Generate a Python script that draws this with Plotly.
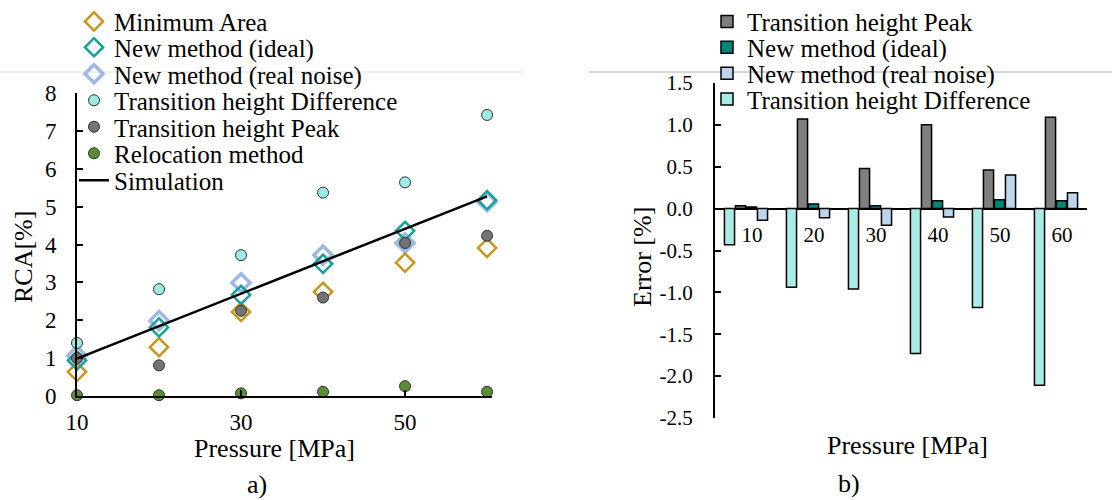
import plotly.graph_objects as go

# ---------------- data ----------------
pressure = [10, 20, 30, 40, 50, 60]
min_area = [0.64, 1.29, 2.22, 2.75, 3.52, 3.91]
new_ideal = [0.94, 1.81, 2.67, 3.49, 4.36, 5.17]
new_real = [1.07, 1.99, 2.99, 3.72, 4.04, 5.13]
th_diff = [1.40, 2.82, 3.72, 5.37, 5.64, 7.42]
th_peak = [1.00, 0.81, 2.25, 2.60, 4.04, 4.23]
relocation = [0.02, 0.02, 0.07, 0.11, 0.26, 0.11]
simulation = [0.99, 1.85, 2.70, 3.56, 4.43, 5.27]

err_categories = ["10", "20", "30", "40", "50", "60"]
err_diff = [-0.43, -0.94, -0.96, -1.73, -1.18, -2.11]
err_peak = [0.035, 1.07, 0.48, 1.00, 0.46, 1.09]
err_ideal = [0.02, 0.055, 0.035, 0.095, 0.105, 0.095]
err_real = [-0.14, -0.11, -0.20, -0.10, 0.40, 0.19]

rca_tickvals = [0, 1, 2, 3, 4, 5, 6, 7, 8]
p_tickvals = [10, 30, 50]
err_tickvals = [-2.5, -2.0, -1.5, -1.0, -0.5, 0.0, 0.5, 1.0, 1.5]
err_ticktext = ["-2.5", "-2.0", "-1.5", "-1.0", "-0.5", "0.0", "0.5", "1.0", "1.5"]

# ---------------- layout geometry ----------------
W, H = 1112, 500
FONT = "Liberation Serif, Times New Roman, Tinos, DejaVu Serif, serif"

def px(x):
    return x / W

def py(y):
    return 1 - y / H

fig = go.Figure()

# ---- left panel: scatter ----
fig.add_trace(go.Scatter(x=pressure, y=new_real, mode="markers", name="New method (real noise)",
                         legend="legend3", cliponaxis=False,
                         marker=dict(symbol="diamond-open", size=14, color="#9DB8E2",
                                     line=dict(width=3.5, color="#9DB8E2"))))
fig.add_trace(go.Scatter(x=pressure, y=min_area, mode="markers", name="Minimum Area",
                         legend="legend", cliponaxis=False,
                         marker=dict(symbol="diamond-open", size=14, color="#C8961A",
                                     line=dict(width=2.5, color="#C8961A"))))
fig.add_trace(go.Scatter(x=pressure, y=new_ideal, mode="markers", name="New method (ideal)",
                         legend="legend2", cliponaxis=False,
                         marker=dict(symbol="diamond-open", size=14, color="#17A19B",
                                     line=dict(width=2.5, color="#17A19B"))))
fig.add_trace(go.Scatter(x=pressure, y=th_diff, mode="markers", name="Transition height Difference",
                         legend="legend4", cliponaxis=False,
                         marker=dict(symbol="circle", size=11, color="#9EEAE6",
                                     line=dict(width=1, color="#333333"))))
fig.add_trace(go.Scatter(x=pressure, y=th_peak, mode="markers", name="Transition height Peak",
                         legend="legend5", cliponaxis=False,
                         marker=dict(symbol="circle", size=11, color="#737373",
                                     line=dict(width=1, color="#333333"))))
fig.add_trace(go.Scatter(x=pressure, y=relocation, mode="markers", name="Relocation method",
                         legend="legend6", cliponaxis=False,
                         marker=dict(symbol="circle", size=11, color="#5B8E34",
                                     line=dict(width=1, color="#333333"))))
fig.add_trace(go.Scatter(x=pressure, y=simulation, mode="lines", name="Simulation",
                         legend="legend7", cliponaxis=False,
                         line=dict(color="black", width=2.5)))

# ---- right panel: bars ----
bar_line = dict(color="black", width=1.5)
fig.add_trace(go.Bar(x=err_categories, y=err_diff, name="Transition height Difference",
                     xaxis="x2", yaxis="y2", legend="legend11",
                     marker=dict(color="#A8ECE8", line=bar_line)))
fig.add_trace(go.Bar(x=err_categories, y=err_peak, name="Transition height Peak",
                     xaxis="x2", yaxis="y2", legend="legend8",
                     marker=dict(color="#7F7F7F", line=bar_line)))
fig.add_trace(go.Bar(x=err_categories, y=err_ideal, name="New method (ideal)",
                     xaxis="x2", yaxis="y2", legend="legend9",
                     marker=dict(color="#00857F", line=bar_line)))
fig.add_trace(go.Bar(x=err_categories, y=err_real, name="New method (real noise)",
                     xaxis="x2", yaxis="y2", legend="legend10",
                     marker=dict(color="#BDD6EE", line=bar_line)))

# right y domain / position of zero
y2_dom = [py(418), py(83)]
y2_rng = [-2.5, 1.5]
zero_pos = y2_dom[0] + (0 - y2_rng[0]) / (y2_rng[1] - y2_rng[0]) * (y2_dom[1] - y2_dom[0])

axis_common = dict(showgrid=False, zeroline=False, showline=True, linecolor="black",
                   linewidth=2, ticks="inside", ticklen=6, tickwidth=2, tickcolor="black",
                   tickfont=dict(family=FONT, size=23, color="black"))

def legend_at(x, y):
    return dict(x=px(x), y=py(y), xanchor="left", yanchor="middle",
                bgcolor="rgba(0,0,0,0)", borderwidth=0,
                font=dict(family=FONT, size=25, color="black"))

left_rows = [21.7, 47.5, 74, 100.5, 127, 153.5, 180.5]
right_rows = [21.7, 47.5, 73.5, 99.3]
legend_layout = {}
for i, yy in enumerate(left_rows):
    key = "legend" if i == 0 else "legend%d" % (i + 1)
    legend_layout[key] = legend_at(74, yy)
for j, yy in enumerate(right_rows):
    legend_layout["legend%d" % (j + 8)] = legend_at(707, yy)

fig.update_layout(
    width=W, height=H,
    margin=dict(l=0, r=0, t=0, b=0, autoexpand=False),
    paper_bgcolor="white", plot_bgcolor="rgba(0,0,0,0)",
    font=dict(family=FONT, color="black"),
    barmode="group", bargap=0.29, bargroupgap=0.08,
    xaxis=dict(axis_common, domain=[px(77), px(492)], range=[10, 60.6],
               tickvals=p_tickvals, anchor="y", ticklabelstandoff=4, automargin=False),
    yaxis=dict(axis_common, domain=[py(396), py(93)], range=[0, 8],
               tickvals=rca_tickvals, anchor="x", ticklabelstandoff=14, automargin=False),
    xaxis2=dict(showgrid=False, zeroline=False, showline=False, ticks="",
                domain=[px(715), px(1087)], range=[-0.5, 5.5], type="category",
                anchor="free", position=zero_pos, ticklabelstandoff=11, ticklabelshift=6,
                automargin=False,
                tickfont=dict(family=FONT, size=21, color="black")),
    yaxis2=dict(showgrid=False, showline=True, linecolor="black", linewidth=2,
                ticks="inside", ticklen=6, tickwidth=2, tickcolor="black",
                zeroline=True, zerolinecolor="black", zerolinewidth=2,
                domain=y2_dom, range=y2_rng, tickvals=err_tickvals, ticktext=err_ticktext,
                anchor="x2", ticklabelstandoff=16, automargin=False,
                tickfont=dict(family=FONT, size=21, color="black")),
    showlegend=True,
    **legend_layout,
)

# faint page rules
fig.add_shape(type="line", xref="paper", yref="paper", x0=0, x1=px(523), y0=py(72), y1=py(72),
              line=dict(color="#EBEBEB", width=1.5), layer="below")
fig.add_shape(type="line", xref="paper", yref="paper", x0=px(589), x1=1, y0=py(72), y1=py(72),
              line=dict(color="#C8C8C8", width=1.5), layer="below")

def ann(text, x, y, size=26, angle=0):
    fig.add_annotation(text=text, x=px(x), y=py(y), xref="paper", yref="paper",
                       xanchor="center", yanchor="middle", showarrow=False, textangle=angle,
                       font=dict(family=FONT, size=size, color="black"))

ann("RCA[%]", 23, 257, angle=-90)
ann("Pressure [MPa]", 274, 448)
ann("a)", 257, 484)
ann("Error [%]", 642, 257, angle=-90)
ann("Pressure [MPa]", 907, 445)
ann("b)", 849, 483)

fig.write_html("out.html")
